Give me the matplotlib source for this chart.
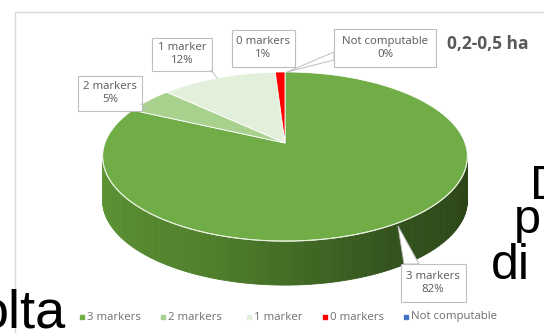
import numpy as np
import matplotlib.pyplot as plt
from matplotlib.patches import Rectangle, Polygon
from matplotlib.colors import to_rgb

# dati del grafico
categorie = ["3 markers", "2 markers", "1 marker", "0 markers", "Not computable"]
valori = [82, 5, 12, 1, 0]
colori = ["#70ad47", "#a9d18e", "#e2efda", "#ff0000", "#4472c4"]
titolo = "0,2-0,5 ha"

# posizione delle etichette (centro box, larghezza, altezza) in pixel
box_etichette = [(433, 283, 65, 38), (110, 93, 64, 35), (182, 54, 60, 33),
                 (263, 48, 63, 37), (385, 48, 102, 38)]

fig = plt.figure(figsize=(5.44, 3.33), dpi=100)
ax = fig.add_axes([0, 0, 1, 1])
ax.set_xlim(0, 544)
ax.set_ylim(333, 0)
ax.axis("off")

# geometria della torta 3D (prospettiva semplice)
cx, cy = 285, 143
A, B, k = 180, 82.4, 0.16
prof = 44


def proj(theta, z=0.0):
    s = 1.0 / (1.0 + k * np.cos(theta))
    x = cx + A * np.sin(theta) * s
    y = cy - B * np.cos(theta) * s + z
    return x, y


# cornice dell'area grafico
ax.plot([15, 544], [12, 12], color="#d9d9d9", lw=1)
ax.plot([15, 15], [12, 333], color="#d9d9d9", lw=1)

# lato della torta (solo la parte frontale, fetta 3 markers)
th_dx = np.arccos(-k)
th_sx = 2 * np.pi - th_dx
stops = [(th_dx, "#2a4217"), (np.radians(150), "#33521d"),
         (np.radians(200), "#4f7f2b"), (th_sx, "#5f9636")]
st_t = np.array([s[0] for s in stops])
st_c = np.array([to_rgb(s[1]) for s in stops])
n = 160
tt = np.linspace(th_dx, th_sx, n + 1)
for i in range(n):
    t0, t1 = tt[i], tt[i + 1]
    tm = 0.5 * (t0 + t1)
    col = [np.interp(tm, st_t, st_c[:, j]) for j in range(3)]
    x0, y0 = proj(t0)
    x1, y1 = proj(t1)
    ax.add_patch(Polygon([(x0, y0), (x1, y1), (x1, y1 + prof), (x0, y0 + prof)],
                         closed=True, fc=col, ec=col, lw=0.6))

# faccia superiore
cum = np.cumsum([0] + valori) / np.sum(valori) * 2 * np.pi
for i, v in enumerate(valori):
    if v <= 0:
        continue
    t = np.linspace(cum[i], cum[i + 1], 200)
    xs, ys = proj(t)
    pts = [(cx, cy)] + list(zip(xs, ys))
    ax.add_patch(Polygon(pts, closed=True, fc=colori[i], ec="white", lw=0.6))

# bordo chiaro sul bordo frontale
t = np.linspace(th_dx, th_sx, 200)
xs, ys = proj(t)
ax.plot(xs, ys, color="#e8f0dc", lw=0.8)

# linee guida delle etichette
ax.add_patch(Polygon([(398, 226), (404, 264), (419, 264)], closed=True,
                     fc="white", ec="#bfbfbf", lw=0.7))
ax.add_patch(Polygon([(287, 72), (334, 52), (334, 60)], closed=True,
                     fc="white", ec="#bfbfbf", lw=0.7))
ax.plot([211, 217], [70, 78], color="#bfbfbf", lw=0.7)
ax.plot([141, 148], [104, 109], color="#bfbfbf", lw=0.7)

# etichette dati
for (bx, by, bw, bh), nome, v in zip(box_etichette, categorie, valori):
    ax.add_patch(Rectangle((bx - bw / 2, by - bh / 2), bw, bh,
                           fc="white", ec="#bfbfbf", lw=0.8))
    ax.text(bx, by, f"{nome}\n{v:.0f}%", ha="center", va="center",
            fontsize=8.2, color="#595959", family="Open Sans", linespacing=1.2)

ax.text(447, 44, titolo, ha="left", va="center", fontsize=12.5,
        fontweight="bold", color="#595959", family="Open Sans")

# legenda
leg_x = [82, 163, 249, 325, 406]
for x, nome, c in zip(leg_x, categorie, colori):
    ax.plot([x], [317], marker="s", ms=3, color=c, mec=c)
    ax.text(x + 5, 317, nome, ha="left", va="center", fontsize=8.2,
            color="#6f6f6f", family="Open Sans")

# testo della diapositiva sovrapposto
ax.text(-21, 327, "olta", ha="left", va="baseline", fontsize=39,
        family="Liberation Sans", color="black")
ax.text(530, 199, "D", ha="left", va="baseline", fontsize=35,
        family="Liberation Sans", color="black")
ax.text(514, 233, "p", ha="left", va="baseline", fontsize=35,
        family="Liberation Sans", color="black")
ax.text(491, 279, "di", ha="left", va="baseline", fontsize=36,
        family="Liberation Sans", color="black")

fig.savefig("out.png", dpi=100)
